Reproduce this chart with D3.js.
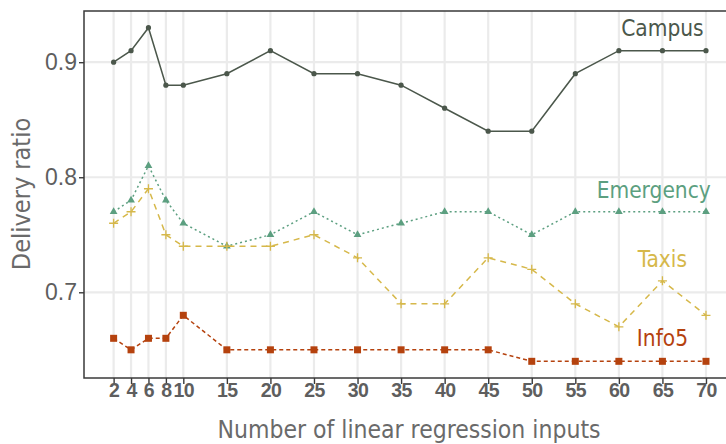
<!DOCTYPE html>
<html>
<head>
<meta charset="utf-8">
<script src="https://cdn.jsdelivr.net/npm/d3@7/dist/d3.min.js"></script>
<style>
  html, body { margin: 0; padding: 0; background: #fff; }
  svg { display: block; font-family: "DejaVu Sans Condensed", "DejaVu Sans", sans-serif; font-stretch: condensed; }
</style>
</head>
<body>
<svg id="chart" width="726" height="444"></svg>
<script>
// Number of regression inputs tested
const inputs = [2, 4, 6, 8, 10, 15, 20, 25, 30, 35, 40, 45, 50, 55, 60, 65, 70];

// Delivery ratio per data set
const campus    = [0.90, 0.91, 0.93, 0.88, 0.88, 0.89, 0.91, 0.89, 0.89, 0.88, 0.86, 0.84, 0.84, 0.89, 0.91, 0.91, 0.91];
const emergency = [0.77, 0.78, 0.81, 0.78, 0.76, 0.74, 0.75, 0.77, 0.75, 0.76, 0.77, 0.77, 0.75, 0.77, 0.77, 0.77, 0.77];
const taxis     = [0.76, 0.77, 0.79, 0.75, 0.74, 0.74, 0.74, 0.75, 0.73, 0.69, 0.69, 0.73, 0.72, 0.69, 0.67, 0.71, 0.68];
const info5     = [0.66, 0.65, 0.66, 0.66, 0.68, 0.65, 0.65, 0.65, 0.65, 0.65, 0.65, 0.65, 0.64, 0.64, 0.64, 0.64, 0.64];

// Tick labels
const xTicks = inputs;
const yTicks = [0.7, 0.8, 0.9];

// Series labels drawn inside the panel (x, y in data units)
const labelNames = ["Campus", "Emergency", "Taxis", "Info5"];
const labelX = [65, 64, 65, 65];
const labelY = [0.93, 0.789, 0.729, 0.66];

const series = [
  { name: "Campus",    values: campus,    color: "#4b574b", dash: null,  shape: "circle" },
  { name: "Emergency", values: emergency, color: "#5c9f80", dash: "2,3", shape: "triangle" },
  { name: "Taxis",     values: taxis,     color: "#d6b84a", dash: "6,5", shape: "plus" },
  { name: "Info5",     values: info5,     color: "#b5420e", dash: "4,3", shape: "square" }
];

const svg = d3.select("#chart");

// Panel geometry; the right side of the panel runs past the page edge
const panel = { left: 84, top: 11, right: 735.6, bottom: 378 };

const x = d3.scaleLinear().domain([-1.4, 73.4]).range([panel.left, panel.right]);
const y = d3.scaleLinear().domain([0.6255, 0.9445]).range([panel.bottom, panel.top]);

// Grid lines
const grid = svg.append("g");
grid.selectAll("line.gx").data(xTicks).join("line")
  .attr("x1", d => x(d)).attr("x2", d => x(d))
  .attr("y1", panel.top).attr("y2", panel.bottom)
  .attr("stroke", "#ebebeb").attr("stroke-width", 2.2);
grid.selectAll("line.gy").data(yTicks).join("line")
  .attr("x1", panel.left).attr("x2", panel.right)
  .attr("y1", d => y(d)).attr("y2", d => y(d))
  .attr("stroke", "#ebebeb").attr("stroke-width", 2.2);

// Panel border
svg.append("rect")
  .attr("x", panel.left).attr("y", panel.top)
  .attr("width", panel.right - panel.left).attr("height", panel.bottom - panel.top)
  .attr("fill", "none").attr("stroke", "#3a3a3a").attr("stroke-width", 1.5);

// Axes
const xAxis = svg.append("g")
  .attr("transform", `translate(0,${panel.bottom})`)
  .call(d3.axisBottom(x).tickValues(xTicks).tickSize(6).tickPadding(-1).tickFormat(d3.format("d")));
xAxis.select(".domain").remove();
xAxis.selectAll(".tick line").attr("stroke", "#3a3a3a").attr("stroke-width", 1.4);
xAxis.selectAll(".tick text")
  .attr("fill", "#5e5e5e").style("font-size", "19.5px").style("font-weight", "bold")
  .attr("letter-spacing", "-0.6");

const yAxis = svg.append("g")
  .attr("transform", `translate(${panel.left},0)`)
  .call(d3.axisLeft(y).tickValues(yTicks).tickSize(5).tickPadding(2).tickFormat(d3.format(".1f")));
yAxis.select(".domain").remove();
yAxis.selectAll(".tick line").attr("stroke", "#3a3a3a").attr("stroke-width", 1.4);
yAxis.selectAll(".tick text")
  .attr("fill", "#5e5e5e").style("font-size", "23px");

// Axis titles
svg.append("text")
  .attr("x", 409).attr("y", 438)
  .attr("text-anchor", "middle")
  .attr("fill", "#6a6a6a").style("font-size", "24.5px")
  .text("Number of linear regression inputs");

svg.append("text")
  .attr("transform", `translate(30,194) rotate(-90)`)
  .attr("text-anchor", "middle")
  .attr("fill", "#6a6a6a").style("font-size", "25px")
  .text("Delivery ratio");

// Lines and markers
const line = d3.line().x(d => x(d[0])).y(d => y(d[1]));
const plot = svg.append("g");

series.forEach(s => {
  const pts = inputs.map((v, i) => [v, s.values[i]]);
  plot.append("path")
    .datum(pts)
    .attr("d", line)
    .attr("fill", "none")
    .attr("stroke", s.color)
    .attr("stroke-width", 1.5)
    .attr("stroke-dasharray", s.dash);

  const g = plot.append("g");
  if (s.shape === "circle") {
    g.selectAll("circle").data(pts).join("circle")
      .attr("cx", d => x(d[0])).attr("cy", d => y(d[1])).attr("r", 2.6)
      .attr("fill", s.color);
  } else if (s.shape === "triangle") {
    const sym = d3.symbol().type(d3.symbolTriangle).size(26);
    g.selectAll("path").data(pts).join("path")
      .attr("transform", d => `translate(${x(d[0])},${y(d[1])})`)
      .attr("d", sym).attr("fill", s.color);
  } else if (s.shape === "plus") {
    g.selectAll("path").data(pts).join("path")
      .attr("transform", d => `translate(${x(d[0])},${y(d[1])})`)
      .attr("d", "M-4.5,0H4.5M0,-4.5V4.5")
      .attr("stroke", s.color).attr("stroke-width", 1.3).attr("fill", "none");
  } else {
    g.selectAll("rect").data(pts).join("rect")
      .attr("x", d => x(d[0]) - 3.5).attr("y", d => y(d[1]) - 3.5)
      .attr("width", 7).attr("height", 7)
      .attr("fill", s.color);
  }
});

// Series labels
svg.append("g").selectAll("text").data(labelNames).join("text")
  .attr("x", (d, i) => x(labelX[i]))
  .attr("y", (d, i) => y(labelY[i]))
  .attr("dy", "0.35em")
  .attr("text-anchor", "middle")
  .attr("fill", (d, i) => series[i].color)
  .style("font-size", "22.5px")
  .text(d => d);
</script>
</body>
</html>
